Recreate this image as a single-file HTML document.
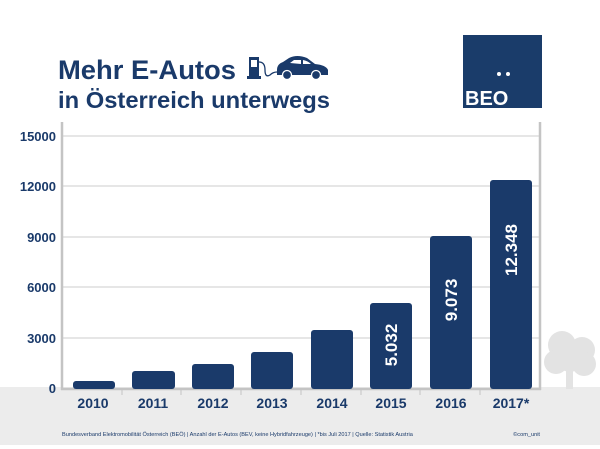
<!DOCTYPE html>
<html><head><meta charset="utf-8"><style>
html,body{margin:0;padding:0;background:#fff;width:600px;height:449px;overflow:hidden}
svg{display:block;font-family:"Liberation Sans",sans-serif}
</style></head><body>
<svg width="600" height="449" viewBox="0 0 600 449">
<rect x="0" y="387" width="600" height="58" fill="#ececec"/>
<g fill="#e3e3e3">
<circle cx="562" cy="345" r="14"/><circle cx="582" cy="350" r="13"/><circle cx="556" cy="362" r="12"/><circle cx="584" cy="364" r="12"/><circle cx="570" cy="358" r="14"/>
<rect x="566" y="365" width="7" height="24"/>
</g>
<text x="58" y="79" font-size="27" font-weight="bold" fill="#1a3a6a" textLength="178" lengthAdjust="spacingAndGlyphs">Mehr E-Autos</text>
<text x="58" y="108" font-size="23.5" font-weight="bold" fill="#1a3a6a" textLength="272" lengthAdjust="spacingAndGlyphs">in Österreich unterwegs</text>
<g fill="#1a3a6a">
<rect x="249" y="57" width="10" height="21"/><rect x="247" y="76" width="14" height="3"/>
<rect x="251" y="60" width="6" height="7" fill="#fff"/>
<path d="M259 62 q6 0 6 8 q0 8 5 5 q3-3 7-3" fill="none" stroke="#1a3a6a" stroke-width="1.3"/>
<path d="M277 70 q0-6 6-8 l6-4 q8-4 18 0 l8 6 q11 1 13 6 v5 h-51z"/>
<path d="M290 63 l4-3 h7 v4z M303 60 q5 1 8 4 h-8z" fill="#fff"/>
<circle cx="287" cy="75" r="4.5" stroke="#fff" stroke-width="1.3"/><circle cx="316" cy="75" r="4.5" stroke="#fff" stroke-width="1.3"/>
</g>
<rect x="463" y="35" width="79" height="73" fill="#1a3c6a"/>
<circle cx="499" cy="74" r="2" fill="#fff"/><circle cx="508" cy="74" r="2" fill="#fff"/>
<text x="465" y="105" font-size="20" font-weight="bold" fill="#fff">BEO</text>
<g stroke="#d8d8d8" stroke-width="1.3">
<line x1="62" x2="540" y1="136" y2="136"/><line x1="62" x2="540" y1="186" y2="186"/>
<line x1="62" x2="540" y1="237" y2="237"/><line x1="62" x2="540" y1="287" y2="287"/>
<line x1="62" x2="540" y1="338" y2="338"/>
</g>
<g stroke="#c4c4c4" stroke-width="2.5">
<line x1="62" x2="62" y1="122" y2="390"/><line x1="540" x2="540" y1="122" y2="390"/>
<line x1="61" x2="541" y1="389" y2="389"/>
</g>
<g stroke="#c4c4c4" stroke-width="1">
<line x1="122" x2="122" y1="389" y2="395"/><line x1="181" x2="181" y1="389" y2="395"/><line x1="241" x2="241" y1="389" y2="395"/><line x1="301" x2="301" y1="389" y2="395"/><line x1="361" x2="361" y1="389" y2="395"/><line x1="420" x2="420" y1="389" y2="395"/><line x1="480" x2="480" y1="389" y2="395"/>
</g>
<g font-size="13" font-weight="bold" fill="#1a3a6a" text-anchor="end">
<text x="56" y="141">15000</text><text x="56" y="191">12000</text><text x="56" y="242">9000</text><text x="56" y="292">6000</text><text x="56" y="343">3000</text><text x="56" y="393">0</text>
</g>
<g fill="#1a3a6a">
<rect x="73" y="381" width="42" height="8" rx="3"/>
<rect x="132" y="371" width="43" height="18" rx="3"/>
<rect x="192" y="364" width="42" height="25" rx="3"/>
<rect x="251" y="352" width="42" height="37" rx="3"/>
<rect x="311" y="330" width="42" height="59" rx="3"/>
<rect x="370" y="303" width="42" height="86" rx="3"/>
<rect x="430" y="236" width="42" height="153" rx="3"/>
<rect x="490" y="180" width="42" height="209" rx="3"/>
</g>
<g font-size="17" font-weight="bold" fill="#fff" text-anchor="middle">
<text transform="translate(397,345) rotate(-90)">5.032</text>
<text transform="translate(457,300) rotate(-90)">9.073</text>
<text transform="translate(517,250) rotate(-90)">12.348</text>
</g>
<g font-size="14" font-weight="bold" fill="#1a3a6a" text-anchor="middle">
<text x="93" y="408">2010</text><text x="153" y="408">2011</text><text x="213" y="408">2012</text><text x="272" y="408">2013</text><text x="332" y="408">2014</text><text x="391" y="408">2015</text><text x="451" y="408">2016</text><text x="511" y="408">2017*</text>
</g>
<text x="62" y="436" font-size="5.6" fill="#1a3a6a">Bundesverband Elektromobilität Österreich (BEÖ) | Anzahl der E-Autos (BEV, keine Hybridfahrzeuge) | *bis Juli 2017 | Quelle: Statistik Austria</text>
<text x="540" y="436" font-size="5.6" fill="#1a3a6a" text-anchor="end">©com_unit</text>
</svg>
</body></html>
